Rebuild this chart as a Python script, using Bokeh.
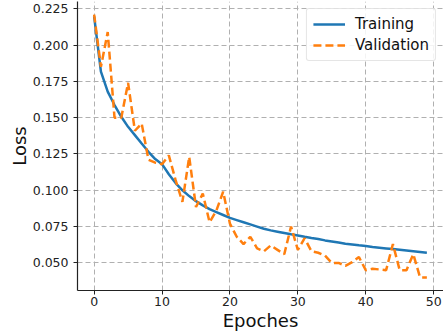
from bokeh.plotting import figure
from bokeh.models import FixedTicker, NumeralTickFormatter, Legend, LegendItem, Range1d
from bokeh.embed import file_html
from bokeh.resources import INLINE

epochs = list(range(50))
training = [0.2197, 0.1817, 0.1679, 0.1587, 0.1506, 0.1437, 0.1380, 0.1322, 0.1265, 0.1215,
            0.1180, 0.1110, 0.1050, 0.1000, 0.0960, 0.0925, 0.0896, 0.0870, 0.0850, 0.0830,
            0.0810, 0.0795, 0.0780, 0.0765, 0.0750, 0.0735, 0.0724, 0.0715, 0.0706, 0.0697,
            0.0689, 0.0680, 0.0672, 0.0665, 0.0655, 0.0648, 0.0640, 0.0632, 0.0627, 0.0621,
            0.0616, 0.0610, 0.0605, 0.0600, 0.0595, 0.0590, 0.0585, 0.0580, 0.0575, 0.0570]
validation = [0.221, 0.185, 0.209, 0.150, 0.150, 0.174, 0.141, 0.146, 0.121, 0.119,
              0.118, 0.124, 0.107, 0.092, 0.123, 0.0885, 0.0977, 0.078, 0.086, 0.099,
              0.077, 0.068, 0.063, 0.068, 0.060, 0.058, 0.062, 0.059, 0.056, 0.075,
              0.059, 0.067, 0.058, 0.057, 0.055, 0.050, 0.050, 0.048, 0.0505, 0.054,
              0.045, 0.046, 0.0455, 0.045, 0.063, 0.045, 0.045, 0.056, 0.040, 0.040]
x_ticks = [0, 10, 20, 30, 40, 50]
y_ticks = [0.050, 0.075, 0.100, 0.125, 0.150, 0.175, 0.200, 0.225]

FONT = "DejaVu Sans"

p = figure(width=443, height=333, output_backend="svg", toolbar_location=None,
           x_range=Range1d(-2.45, 51.45), y_range=Range1d(0.031, 0.230),
           min_border_left=77, min_border_right=0, min_border_top=1, min_border_bottom=0)
p.outline_line_color = None
p.background_fill_color = "white"

l1 = p.line(epochs, training, line_color="#1f77b4", line_width=2.5)
l2 = p.line(epochs, validation, line_color="#ff7f0e", line_width=2.5, line_dash="8 4")

for ax in (p.xaxis, p.yaxis):
    ax.axis_line_color = "#222222"
    ax.axis_line_width = 1.2
    ax.major_tick_line_color = "#222222"
    ax.major_tick_in = 0
    ax.major_tick_out = 4
    ax.minor_tick_line_color = None
    ax.major_label_text_font = FONT
    ax.major_label_text_font_size = "12.5px"
    ax.major_label_text_color = "#222222"
    ax.axis_label_text_font = FONT
    ax.axis_label_text_font_size = "18px"
    ax.axis_label_text_font_style = "normal"
    ax.axis_label_text_color = "#111111"

p.xaxis.ticker = FixedTicker(ticks=x_ticks)
p.yaxis.ticker = FixedTicker(ticks=y_ticks)
p.yaxis.formatter = NumeralTickFormatter(format="0.000")
p.xaxis.axis_label = "Epoches"
p.yaxis.axis_label = "Loss"
p.xaxis.major_label_standoff = 2
p.yaxis.major_label_standoff = 5
p.xaxis.axis_label_standoff = 1
p.yaxis.axis_label_standoff = 0

for g in (p.xgrid, p.ygrid):
    g.grid_line_color = "#b0b0b0"
    g.grid_line_dash = "5 3"
    g.grid_line_width = 1
p.xgrid.ticker = FixedTicker(ticks=x_ticks)
p.ygrid.ticker = FixedTicker(ticks=y_ticks)

legend = Legend(items=[LegendItem(label="Training", renderers=[l1]),
                       LegendItem(label="Validation", renderers=[l2])],
                location="top_right")
legend.label_text_font = FONT
legend.label_text_font_size = "15px"
legend.label_text_color = "#111111"
legend.glyph_width = 32
legend.glyph_height = 16
legend.spacing = 3
legend.padding = 6
legend.margin = 7
legend.label_standoff = 10
legend.border_line_color = "#cccccc"
legend.border_line_width = 1
legend.border_radius = 3
legend.background_fill_alpha = 0.85
p.add_layout(legend)

open("out.html", "w").write(file_html(p, INLINE))
